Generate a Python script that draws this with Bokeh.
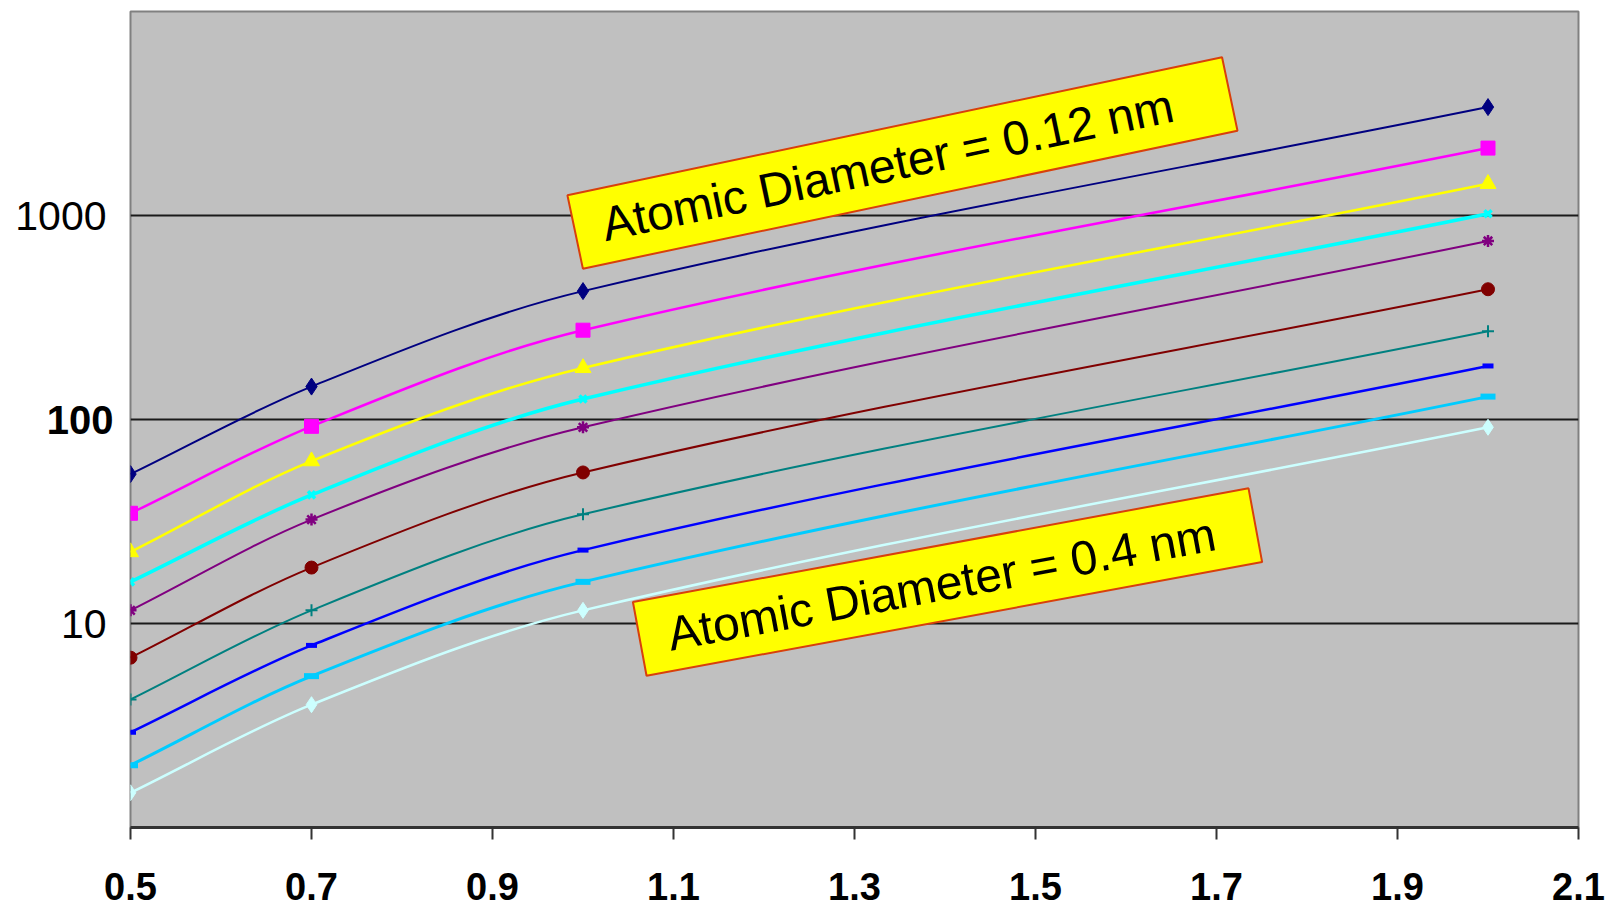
import math
import numpy as np
from bokeh.plotting import figure
from bokeh.models import FixedTicker, Range1d, PrintfTickFormatter, LogAxis
from bokeh.embed import file_html
from bokeh.resources import INLINE
from bokeh.core.properties import value

# ---- data ----
x_vals = [0.5, 0.7, 1.0, 2.0]
s1 = [54, 145, 426, 3400]
s2 = [34.7, 92.6, 274, 2140]
s3 = [22.4, 62.5, 179, 1430]
s4 = [16.0, 42.7, 126, 1020]
s5 = [11.6, 32.3, 91.6, 750]
s6 = [6.8, 18.8, 55, 435]
s7 = [4.24, 11.6, 34.3, 271]
s8 = [2.93, 7.81, 22.9, 183]
s9 = [2.02, 5.52, 16.0, 129.5]
s10 = [1.48, 4.0, 11.6, 91.6]
x_ticks = [0.5, 0.7, 0.9, 1.1, 1.3, 1.5, 1.7, 1.9, 2.1]
y_ticks_bold = [100]
y_ticks_plain = [10, 1000]
y_grid = [10, 100, 1000]
annot_texts = ["Atomic Diameter = 0.12 nm", "Atomic Diameter = 0.4 nm"]

# ---- styles ----
series = [s1, s2, s3, s4, s5, s6, s7, s8, s9, s10]
colors = ["#000080", "#FF00FF", "#FFFF00", "#00FFFF", "#800080",
          "#800000", "#008080", "#0000FF", "#00CCFF", "#CCFFFF"]
markers = ["diamond", "square", "triangle", "x", "asterisk",
           "circle", "cross", "dash", "dash", "diamond"]
msizes = [17, 14, 16, 10, 12, 13, 12, 11, 15, 16]
mlw = [1, 1, 1, 3.5, 2.5, 1, 2, 5, 6, 1]
lws = [2, 2.5, 2.5, 3.5, 2, 2, 2, 2.5, 3, 2.5]

FONT = "Liberation Sans"

p = figure(width=1605, height=906, x_range=Range1d(0.5, 2.1), y_range=Range1d(1, 10000),
           y_axis_type="log", output_backend="svg", toolbar_location=None,
           min_border_left=130, min_border_top=11, min_border_right=27, min_border_bottom=79,
           background_fill_color="#C0C0C0", border_fill_color="white",
           outline_line_color="#808080", outline_line_width=2)

# grid
p.xgrid.visible = False
p.ygrid.ticker = FixedTicker(ticks=y_grid)
p.ygrid.grid_line_color = "#1a1a1a"
p.ygrid.grid_line_width = 2
p.ygrid.minor_grid_line_color = None

# x axis
xa = p.xaxis[0]
xa.ticker = FixedTicker(ticks=x_ticks)
xa.formatter = PrintfTickFormatter(format="%.1f")
xa.axis_line_color = "#333333"
xa.axis_line_width = 3
xa.major_tick_out = 12
xa.major_tick_in = 0
xa.major_tick_line_width = 2
xa.major_tick_line_color = "#333333"
xa.minor_tick_line_color = None
xa.major_label_text_font = FONT
xa.major_label_text_font_style = "bold"
xa.major_label_text_font_size = "38px"
xa.major_label_text_color = "black"
xa.major_label_standoff = 33

# inner y axis: bold "100"
ya = p.yaxis[0]
ya.ticker = FixedTicker(ticks=y_ticks_bold)
ya.formatter = PrintfTickFormatter(format="%d")
ya.axis_line_color = None
ya.major_tick_line_color = None
ya.minor_tick_line_color = None
ya.major_label_text_font = FONT
ya.major_label_text_font_style = "bold"
ya.major_label_text_font_size = "40px"
ya.major_label_text_color = "black"
ya.major_label_standoff = 11

# outer y axis: plain "10" and "1000", pulled back next to the frame
ya2 = LogAxis(ticker=FixedTicker(ticks=y_ticks_plain), formatter=PrintfTickFormatter(format="%d"))
ya2.axis_line_color = None
ya2.major_tick_line_color = None
ya2.minor_tick_line_color = None
ya2.major_label_text_font = FONT
ya2.major_label_text_font_size = "41px"
ya2.major_label_text_color = "black"
ya2.major_label_standoff = -69
p.add_layout(ya2, "left")


def bezier_segments(xs, ys):
    lx = np.array(xs, dtype=float)
    ly = np.log10(np.array(ys, dtype=float))
    n = len(lx)
    sec = np.diff(ly) / np.diff(lx)
    m = np.zeros(n)
    m[0] = sec[0]
    m[-1] = sec[-1]
    for i in range(1, n - 1):
        m[i] = (ly[i + 1] - ly[i - 1]) / (lx[i + 1] - lx[i - 1])
    out = {k: [] for k in ["x0", "y0", "x1", "y1", "cx0", "cy0", "cx1", "cy1"]}
    for i in range(n - 1):
        dx = lx[i + 1] - lx[i]
        out["x0"].append(lx[i]); out["y0"].append(10 ** ly[i])
        out["x1"].append(lx[i + 1]); out["y1"].append(10 ** ly[i + 1])
        out["cx0"].append(lx[i] + dx / 3); out["cy0"].append(10 ** (ly[i] + m[i] * dx / 3))
        out["cx1"].append(lx[i + 1] - dx / 3); out["cy1"].append(10 ** (ly[i + 1] - m[i + 1] * dx / 3))
    return out


for s, c, lw in zip(series, colors, lws):
    seg = bezier_segments(x_vals, s)
    p.bezier(line_color=c, line_width=lw, **seg)

for s, c, m, ms, mw in zip(series, colors, markers, msizes, mlw):
    p.scatter(x_vals, s, marker=m, size=ms, fill_color=c, line_color=c, line_width=mw)

# annotation boxes
annot_x = [1.353, 1.4028]
annot_y = [1809, 15.97]
annot_w = [669, 626]
annot_h = [75, 75]
annot_angle = [math.radians(11.9), math.radians(10.46)]
p.rect(x=annot_x, y=annot_y, width=annot_w, height=annot_h,
       width_units="screen", height_units="screen", angle=annot_angle,
       fill_color="#FFFF00", line_color="#D8400C", line_width=2)
p.text(x=annot_x, y=annot_y, text=annot_texts, angle=annot_angle,
       x_offset=[-15, -6], y_offset=[2, 2],
       text_font=value(FONT), text_font_size="48px", text_align="center",
       text_baseline="middle", text_color="black")

open("out.html", "w").write(file_html(p, INLINE))
